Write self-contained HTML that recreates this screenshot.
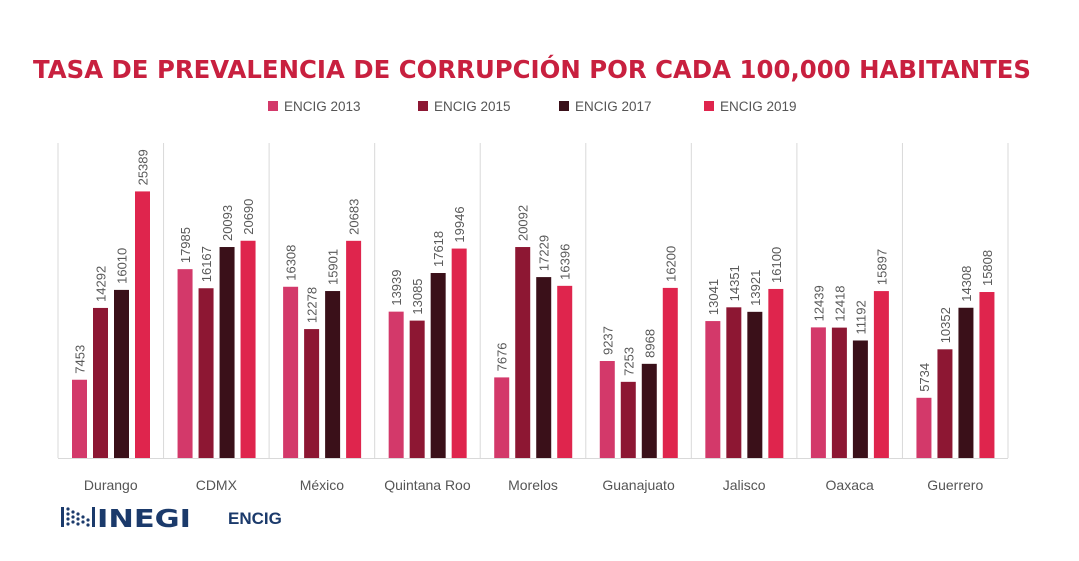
<!DOCTYPE html>
<html><head><meta charset="utf-8"><style>
body{margin:0;background:#fff;width:1079px;height:561px;overflow:hidden;font-family:"Liberation Sans",sans-serif}
svg{display:block}
</style></head><body>
<svg id="chart" width="1079" height="561">
<text x="33" y="78" textLength="998" lengthAdjust="spacingAndGlyphs" font-family="'DejaVu Sans','Liberation Sans',sans-serif" font-weight="bold" font-size="25" fill="#c8203f">TASA DE PREVALENCIA DE CORRUPCIÓN POR CADA 100,000 HABITANTES</text>
<g id="legend"></g>
<g id="grid"></g>
<g id="bars"></g>
<g id="labels"></g>
<g id="cats"></g>
<g>
<g fill="#1b3a6b">
<rect x="61" y="507" width="3" height="20"/>
<circle cx="68" cy="509" r="1.6"/><circle cx="68" cy="514" r="1.6"/><circle cx="68" cy="519" r="1.6"/><circle cx="68" cy="524" r="1.6"/>
<circle cx="73" cy="512" r="1.6"/><circle cx="73" cy="517" r="1.6"/><circle cx="73" cy="522" r="1.6"/>
<circle cx="78" cy="514" r="1.6"/><circle cx="78" cy="519" r="1.6"/><circle cx="78" cy="524" r="1.6"/>
<circle cx="83" cy="517" r="1.6"/><circle cx="83" cy="522" r="1.6"/>
<circle cx="88" cy="520" r="1.6"/><circle cx="88" cy="525" r="1.6"/>
<rect x="92" y="507" width="3" height="20"/>
</g>
<text x="97" y="527" font-family="'DejaVu Sans',sans-serif" font-weight="bold" font-size="25" fill="#1b3a6b" textLength="94" lengthAdjust="spacingAndGlyphs">INEGI</text>
</g>
<text x="228" y="524" font-weight="bold" font-size="17" fill="#1b3a6b">ENCIG</text>
</svg>
<script>
const categories=["Durango","CDMX","México","Quintana Roo","Morelos","Guanajuato","Jalisco","Oaxaca","Guerrero"];
const seriesNames=["ENCIG 2013","ENCIG 2015","ENCIG 2017","ENCIG 2019"];
const s2013=[7453,17985,16308,13939,7676,9237,13041,12439,5734];
const s2015=[14292,16167,12278,13085,20092,7253,14351,12418,10352];
const s2017=[16010,20093,15901,17618,17229,8968,13921,11192,14308];
const s2019=[25389,20690,20683,19946,16396,16200,16100,15897,15808];
const series=[s2013,s2015,s2017,s2019];
const colors=["#d3396a","#8d1733","#3a1019","#df254d"];
const NS="http://www.w3.org/2000/svg";
const x0=58,x1=1008,y0=458,yTop=143,vMax=30000;
const gw=(x1-x0)/categories.length;
function y(v){return y0-(v/vMax)*(y0-yTop);}
function bx(i,j){return x0+i*gw+14+j*21;}
function mk(t,a,p){const e=document.createElementNS(NS,t);for(const k in a)e.setAttribute(k,a[k]);document.getElementById(p).appendChild(e);return e;}
for(let i=0;i<=categories.length;i++){
 const l=mk("line",{x1:x0+i*gw,x2:x0+i*gw,y1:yTop,y2:y0,stroke:"#d9d9d9","stroke-width":1},"grid");
 
 
}
const base=mk("line",{x1:x0,x2:x1,y1:y0+0.5,y2:y0+0.5,stroke:"#d9d9d9","stroke-width":1},"grid");


categories.forEach((c,i)=>{
 series.forEach((s,j)=>{
  const r=mk("rect",{x:bx(i,j),y:y(s[i]),width:15,height:y0-y(s[i]),fill:colors[j]},"bars");
  
  
  const lx=bx(i,j)+7.5+5, ly=y(s[i])-6;
  const t=mk("text",{x:lx,y:ly,transform:`rotate(-90 ${lx} ${ly})`,"font-size":13,fill:"#595959"},"labels");
  t.textContent=s[i];
  
  
 });
 const ct=mk("text",{x:x0+i*gw+gw/2,y:490,"text-anchor":"middle","font-size":14,fill:"#555"},"cats");
 ct.textContent=c;
 
 
});
const lgx=[268,418,559,704];
seriesNames.forEach((n,j)=>{
 const r=mk("rect",{x:lgx[j],y:101,width:10,height:10,fill:colors[j]},"legend");
 
 
 const t=mk("text",{x:lgx[j]+16,y:111,"font-size":13.5,fill:"#555"},"legend");
 t.textContent=n;
 
 
});
</script>
</body></html>
